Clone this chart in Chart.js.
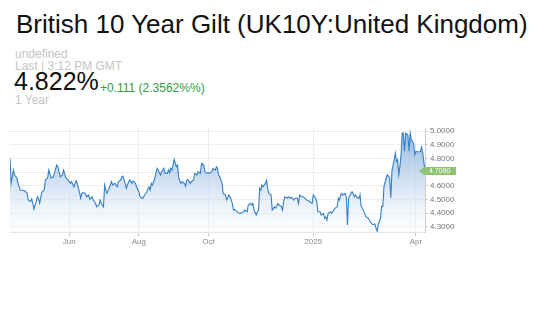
<!DOCTYPE html>
<html>
<head>
<meta charset="utf-8">
<script src="https://cdn.jsdelivr.net/npm/chart.js@4"></script>
<style>
  body { margin: 0; background: #fff; font-family: "Liberation Sans", Arial, sans-serif; }
  .t { position: absolute; white-space: nowrap; line-height: 1; }
  #titel { left: 16px; top: 11px; font-size: 26px; color: #111; }
  #undef { left: 15px; top: 48px; font-size: 12px; color: #c4c4c4; }
  #last { left: 15px; top: 60px; font-size: 12px; color: #c4c4c4; }
  #kurs { left: 14px; top: 69px; font-size: 25px; color: #111; }
  #diff { left: 100px; top: 82px; font-size: 12px; color: #2ea043; }
  #zeit { left: 15px; top: 94px; font-size: 12px; color: #c4c4c4; }
  #box { position: absolute; left: 0; top: 120px; width: 470px; height: 135px; }
</style>
</head>
<body>
<div class="t" id="titel">British 10 Year Gilt (UK10Y:United Kingdom)</div>
<div class="t" id="undef">undefined</div>
<div class="t" id="last">Last | 3:12 PM GMT</div>
<div class="t" id="kurs">4.822%</div>
<div class="t" id="diff">+0.111 (2.3562%%)</div>
<div class="t" id="zeit">1 Year</div>
<div id="box"><canvas id="chart" width="470" height="135"></canvas></div>
<script>
// Tage seit 10.04.2024 und Rendite (%)
const tage = [0,1,3,4,6,7,9,13,15,16,18,19,20,21,23,24,25,26,28,30,31,33,34,36,38,41,42,44,46,47,49,51,53,54,56,58,59,61,62,63,64,66,67,69,70,72,73,75,76,78,79,80,82,83,84,85,87,89,90,92,94,95,97,98,99,101,102,104,105,107,108,110,111,113,114,116,117,118,120,121,122,123,124,125,127,128,129,130,132,133,135,136,138,139,140,141,142,143,144,145,146,147,148,150,151,153,154,155,156,158,159,161,162,164,165,167,168,170,171,173,174,175,177,178,180,181,182,183,184,186,187,189,190,192,193,195,196,197,199,200,202,203,205,206,208,209,211,212,213,214,216,217,218,219,220,221,222,224,225,226,227,229,230,232,233,235,236,238,239,240,241,243,244,246,247,249,250,252,253,254,256,257,259,260,262,263,265,266,268,269,270,272,273,275,276,277,278,279,281,282,284,285,287,288,289,290,291,292,294,295,296,297,299,300,301,302,303,304,306,307,308,309,311,312,314,315,317,318,320,321,322,323,325,326,327,328,330,331,333,334,335,336,337,338,339,340,341,342,343,344,345,346,347,349,350,351,352,354,355,356,358,360,361,362,364];
const rendite = [4.801,4.620,4.715,4.679,4.657,4.620,4.569,4.564,4.547,4.496,4.484,4.504,4.474,4.431,4.484,4.520,4.509,4.474,4.557,4.569,4.642,4.657,4.715,4.657,4.666,4.752,4.739,4.666,4.679,4.715,4.657,4.642,4.618,4.630,4.593,4.637,4.618,4.550,4.509,4.545,4.550,4.545,4.520,4.533,4.501,4.520,4.496,4.472,4.447,4.460,4.496,4.472,4.447,4.606,4.569,4.545,4.582,4.630,4.606,4.618,4.593,4.630,4.642,4.666,4.671,4.618,4.582,4.630,4.642,4.618,4.637,4.618,4.593,4.557,4.520,4.509,4.513,4.533,4.555,4.582,4.593,4.569,4.618,4.606,4.655,4.691,4.728,4.715,4.679,4.703,4.728,4.691,4.691,4.715,4.696,4.728,4.715,4.752,4.793,4.764,4.739,4.752,4.655,4.618,4.630,4.618,4.598,4.642,4.647,4.618,4.630,4.642,4.691,4.679,4.703,4.691,4.764,4.752,4.703,4.691,4.696,4.691,4.703,4.728,4.715,4.739,4.728,4.679,4.666,4.618,4.545,4.533,4.496,4.533,4.520,4.472,4.423,4.428,4.411,4.404,4.399,4.404,4.411,4.423,4.411,4.460,4.472,4.460,4.472,4.423,4.387,4.411,4.423,4.582,4.569,4.606,4.593,4.618,4.642,4.582,4.545,4.533,4.423,4.447,4.436,4.472,4.460,4.447,4.423,4.484,4.520,4.509,4.520,4.509,4.516,4.496,4.509,4.509,4.472,4.533,4.520,4.520,4.509,4.496,4.491,4.484,4.472,4.533,4.509,4.484,4.411,4.411,4.387,4.399,4.363,4.374,4.350,4.399,4.411,4.399,4.423,4.436,4.447,4.509,4.496,4.533,4.545,4.533,4.545,4.520,4.314,4.509,4.545,4.557,4.545,4.520,4.533,4.520,4.509,4.535,4.450,4.438,4.401,4.377,4.365,4.352,4.328,4.316,4.321,4.292,4.268,4.316,4.365,4.450,4.450,4.596,4.657,4.681,4.657,4.511,4.706,4.754,4.790,4.839,4.779,4.790,4.681,4.742,4.827,4.985,4.985,4.852,4.985,4.973,4.852,4.985,4.936,4.912,4.827,4.852,4.847,4.852,4.883,4.840,4.709];

const tickTage = [52, 113, 174, 266, 356];
const tickLabels = ["Jun", "Aug", "Oct", "2025", "Apr"];
const yTicks = [4.3, 4.4, 4.5, 4.6, 4.7, 4.8, 4.9, 5.0];

const punkte = tage.map((t, i) => ({ x: t, y: rendite[i] }));
const letzterWert = rendite[rendite.length - 1];

// grünes Kursfähnchen rechts an der Achse
const kursMarke = {
  id: "kursMarke",
  afterDraw(chart) {
    const ctx = chart.ctx;
    const y = chart.scales.y.getPixelForValue(letzterWert);
    const r = chart.chartArea.right;
    ctx.save();
    ctx.fillStyle = "#8cc474";
    ctx.beginPath();
    ctx.moveTo(r - 6, y);
    ctx.lineTo(r - 1, y - 4);
    ctx.lineTo(r + 31, y - 4);
    ctx.lineTo(r + 31, y + 4);
    ctx.lineTo(r - 1, y + 4);
    ctx.closePath();
    ctx.fill();
    ctx.fillStyle = "#fff";
    ctx.font = "7px 'Liberation Sans', Arial";
    ctx.textBaseline = "middle";
    ctx.fillText(letzterWert.toFixed(4), r + 4, y + 0.5);
    ctx.restore();
  }
};

new Chart(document.getElementById("chart").getContext("2d"), {
  type: "line",
  data: {
    datasets: [{
      data: punkte,
      borderColor: "#3580c4",
      borderWidth: 1.1,
      pointRadius: 0,
      tension: 0,
      fill: "start",
      backgroundColor: (c) => {
        const a = c.chart.chartArea;
        if (!a) return "rgba(180,205,232,0.5)";
        const g = c.chart.ctx.createLinearGradient(0, a.top, 0, a.bottom);
        g.addColorStop(0, "rgba(130,172,222,0.9)");
        g.addColorStop(0.45, "rgba(180,205,234,0.7)");
        g.addColorStop(1, "rgba(245,249,253,0.3)");
        return g;
      }
    }]
  },
  options: {
    responsive: false,
    animation: false,
    layout: { padding: { left: 10, top: 8.3, right: 0, bottom: 0 } },
    plugins: { legend: { display: false }, tooltip: { enabled: false } },
    scales: {
      x: {
        type: "linear",
        min: 0,
        max: 364,
        afterBuildTicks: (s) => { s.ticks = tickTage.map(v => ({ value: v })); },
        afterFit: (s) => { s.height = 22.6; },
        ticks: {
          autoSkip: false,
          maxRotation: 0,
          padding: 1,
          color: "#888",
          font: { size: 8, family: "'Liberation Sans', Arial" },
          callback: (v) => tickLabels[tickTage.indexOf(v)]
        },
        grid: { color: "#ececec", tickLength: 4, tickColor: "#ccc" },
        border: { color: "#e4e4e4" }
      },
      y: {
        position: "right",
        min: 4.26,
        max: 5.02,
        afterBuildTicks: (s) => { s.ticks = yTicks.map(v => ({ value: v })); },
        afterFit: (s) => { s.width = 45; },
        ticks: {
          padding: 2,
          color: "#777",
          font: { size: 8, family: "'Liberation Sans', Arial" },
          callback: (v) => v.toFixed(4)
        },
        grid: { color: "#eeeeee", tickLength: 3, tickColor: "#ccc" },
        border: { color: "#cccccc" }
      }
    }
  },
  plugins: [kursMarke]
});
</script>
</body>
</html>
